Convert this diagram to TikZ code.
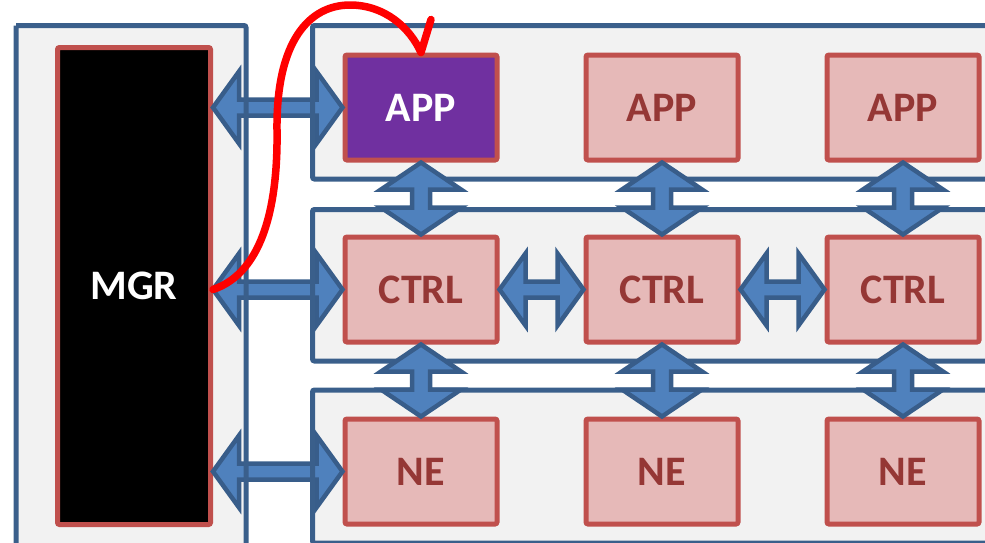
\documentclass[tikz,border=0pt]{standalone}
\usepackage{fontspec}
\setmainfont{Carlito}
\usetikzlibrary{positioning,calc}

\definecolor{panelfill}{HTML}{F2F2F2}
\definecolor{panelline}{HTML}{3A5F8B}
\definecolor{boxfill}{HTML}{E6B9B8}
\definecolor{boxline}{HTML}{C0504D}
\definecolor{boxtext}{HTML}{953735}
\definecolor{arrowfill}{HTML}{4F81BD}
\definecolor{arrowline}{HTML}{385D8A}
\definecolor{appfill}{HTML}{7030A0}

\tikzset{
  box/.style={draw=boxline, fill=boxfill, line width=5pt, rounded corners=2pt,
    minimum width=152pt, minimum height=105pt, text=boxtext,
    font=\fontsize{42}{42}\selectfont\bfseries},
  panel/.style={draw=panelline, line width=5pt, rounded corners=2pt},
  hdbl/.style={draw=arrowline, fill=arrowfill, line width=4.5pt, line join=miter,
    to path={($(\tikztostart)$) -- ($(\tikztostart)+(26,36)$) -- ($(\tikztostart)+(26,8)$)
      -- ($(\tikztotarget)+(-26,8)$) -- ($(\tikztotarget)+(-26,36)$) -- (\tikztotarget)
      -- ($(\tikztotarget)+(-26,-36)$) -- ($(\tikztotarget)+(-26,-8)$)
      -- ($(\tikztostart)+(26,-8)$) -- ($(\tikztostart)+(26,-36)$) -- cycle}},
  vdbl/.style={draw=arrowline, fill=arrowfill, line width=4.5pt, line join=miter,
    to path={($(\tikztostart)$) -- ($(\tikztostart)+(40,27)$) -- ($(\tikztostart)+(9,27)$)
      -- ($(\tikztotarget)+(9,-27)$) -- ($(\tikztotarget)+(40,-27)$) -- (\tikztotarget)
      -- ($(\tikztotarget)+(-40,-27)$) -- ($(\tikztotarget)+(-9,-27)$)
      -- ($(\tikztostart)+(-9,27)$) -- ($(\tikztostart)+(-40,27)$) -- cycle}}
}

\begin{document}
\begin{tikzpicture}[x=1pt,y=-1pt,node distance=182pt and 241pt,on grid]
    \useasboundingbox (0,0) rectangle (985,542);

    % panels, fill first
    \fill[panelfill] (16,25.5) rectangle (246,543);
    \foreach \ya/\yb in {25.5/179, 209.5/361, 390/543}
        \fill[panelfill] (312.5,\ya) rectangle (1000,\yb);

    % boxes
    \node[box, fill=black, minimum width=153pt, minimum height=477pt, text=white] (mgr) at (134,286) {MGR};
    \node[box, fill=appfill, text=white] (a1) at (421,107.5) {APP};
    \node[box] (a2) [right= of a1] {APP};
    \node[box] (a3) [right= of a2] {APP};
    \node[box] (c1) [below= of a1] {CTRL};
    \node[box] (c2) [right= of c1] {CTRL};
    \node[box] (c3) [right= of c2] {CTRL};
    \node[box] (n1) [below= of c1] {NE};
    \node[box] (n2) [right= of n1] {NE};
    \node[box] (n3) [right= of n2] {NE};

    % manager links
    \draw[hdbl] (mgr.east |- a1.west) to (a1.west);
    \draw[hdbl] (mgr.east |- c1.west) to (c1.west);
    \draw[hdbl] (mgr.east |- n1.west) to (n1.west);

    % panel borders
    \draw[panel] (16,25.5) -- (16,543) (246,543) -- (246,25.5) -- (16,25.5);
    \foreach \ya/\yb in {25.5/179, 209.5/361, 390/543}
        \draw[panel] (1000,\ya) -- (312.5,\ya) -- (312.5,\yb) -- (1000,\yb);

    % links between boxes
    \foreach \i in {1,2,3} {
        \draw[vdbl] (a\i.south) to (c\i.north);
        \draw[vdbl] (c\i.south) to (n\i.north);
    }
    \draw[hdbl] (c1.east) to (c2.west);
    \draw[hdbl] (c2.east) to (c3.west);

    % red path
    \draw[red, line width=7.5pt, line cap=round, line join=round]
        (mgr.east |- c1.west) .. controls (265,272) and (278,200) .. (277,130)
        .. controls (276,40) and (310,5) .. (350,5)
        .. controls (385,5) and (410,28) .. (a1.north) -- ++(10,-33);
\end{tikzpicture}
\end{document}
